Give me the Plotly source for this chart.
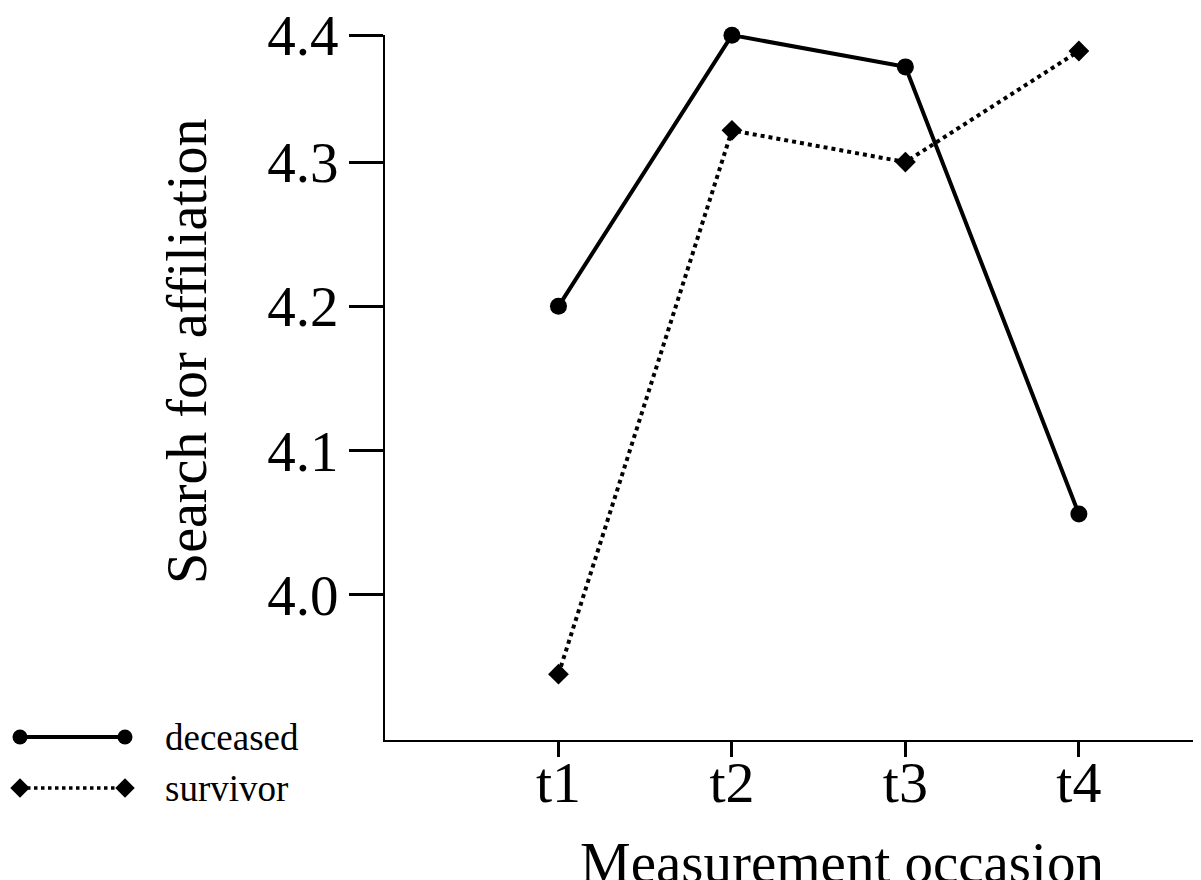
import plotly.graph_objects as go

# ---- data ----
occasions = ["t1", "t2", "t3", "t4"]
occasion_pos = [1, 2, 3, 4]
deceased = [4.200, 4.388, 4.366, 4.056]
survivor = [3.945, 4.322, 4.300, 4.377]
series_names = ["deceased", "survivor"]
y_tick_vals = [4.0, 4.1, 4.2, 4.3, 4.388]
y_tick_text = ["4.0", "4.1", "4.2", "4.3", "4.4"]

# the page body has an 8px default margin; size the figure to fill the window
OFF = 8
W, H = 1201 - OFF, 880 - OFF
FONT = "Liberation Serif"

def px_x(p):
    return (p - OFF) / W

def px_y(p):
    return 1 - (p - OFF) / H

x_dom = [px_x(385), 1.0]
y_dom = [px_y(740), px_y(35)]
x_rng = [0, 4.704]
y_rng = [3.8994, 4.3881]

fig = go.Figure()

fig.add_trace(go.Scatter(
    x=occasion_pos, y=deceased, mode="lines+markers", name=series_names[0],
    line=dict(color="black", width=4, dash="solid"),
    marker=dict(symbol="circle", size=17, color="black"),
    cliponaxis=False, showlegend=False, xaxis="x", yaxis="y"))
fig.add_trace(go.Scatter(
    x=occasion_pos, y=survivor, mode="lines+markers", name=series_names[1],
    line=dict(color="black", width=4, dash="dot"),
    marker=dict(symbol="diamond", size=16, color="black"),
    cliponaxis=False, showlegend=False, xaxis="x", yaxis="y"))

# custom legend drawn on a small auxiliary axis
fig.add_trace(go.Scatter(
    x=[0, 1], y=[1, 1], mode="lines+markers",
    line=dict(color="black", width=4),
    marker=dict(symbol="circle", size=15, color="black"),
    cliponaxis=False, showlegend=False, hoverinfo="skip", xaxis="x3", yaxis="y3"))
fig.add_trace(go.Scatter(
    x=[0, 1], y=[0, 0], mode="lines+markers",
    line=dict(color="black", width=3.5, dash="dot"),
    marker=dict(symbol="diamond", size=15, color="black"),
    cliponaxis=False, showlegend=False, hoverinfo="skip", xaxis="x3", yaxis="y3"))

axis_common = dict(showgrid=False, zeroline=False, linecolor="black",
                   tickcolor="black", tickwidth=2.5, automargin=False)

fig.update_layout(
    template="none",
    width=W, height=H,
    margin=dict(l=0, r=0, t=0, b=0, pad=0, autoexpand=False),
    paper_bgcolor="white", plot_bgcolor="white",
    font=dict(family=FONT, color="black"),
    showlegend=False,
    xaxis=dict(domain=x_dom, range=x_rng, anchor="y",
               tickvals=occasion_pos, ticktext=occasions,
               ticks="outside", ticklen=15, showline=True, linewidth=2,
               tickfont=dict(family=FONT, size=58), ticklabelstandoff=-25,
               ticklabeloverflow="allow", **axis_common),
    yaxis=dict(domain=y_dom, range=y_rng, anchor="x",
               tickvals=y_tick_vals, ticktext=y_tick_text,
               ticks="outside", ticklen=34, showline=True, linewidth=2,
               tickfont=dict(family=FONT, size=57), ticklabelstandoff=-1,
               ticklabeloverflow="allow", **axis_common),
    xaxis2=dict(domain=x_dom, range=x_rng, anchor="y", overlaying="x",
                tickvals=occasion_pos, ticks="inside", ticklen=16,
                showticklabels=False, showline=False, **axis_common),
    yaxis2=dict(domain=y_dom, range=y_rng, anchor="x", overlaying="y",
                tickvals=y_tick_vals, ticks="inside", ticklen=35,
                showticklabels=False, showline=False, **axis_common),
    xaxis3=dict(domain=[px_x(20), px_x(125)], range=[0, 1], anchor="y3",
                visible=False, automargin=False),
    yaxis3=dict(domain=[px_y(813.5), px_y(711.5)], range=[-0.5, 1.5], anchor="x3",
                visible=False, automargin=False),
    annotations=[
        dict(text="Measurement occasion", x=px_x(842), y=px_y(862),
             xref="paper", yref="paper", xanchor="center", yanchor="middle",
             showarrow=False, font=dict(family=FONT, size=57)),
        dict(text="Search for affiliation", x=px_x(187), y=px_y(352),
             xref="paper", yref="paper", xanchor="center", yanchor="middle",
             textangle=-90, showarrow=False, font=dict(family=FONT, size=56)),
        dict(text=series_names[0], x=px_x(163), y=1, xref="paper", yref="y3",
             xanchor="left", yanchor="middle", showarrow=False,
             font=dict(family=FONT, size=37)),
        dict(text=series_names[1], x=px_x(163), y=0, xref="paper", yref="y3",
             xanchor="left", yanchor="middle", showarrow=False,
             font=dict(family=FONT, size=37)),
    ],
)

fig.write_html("out.html")
